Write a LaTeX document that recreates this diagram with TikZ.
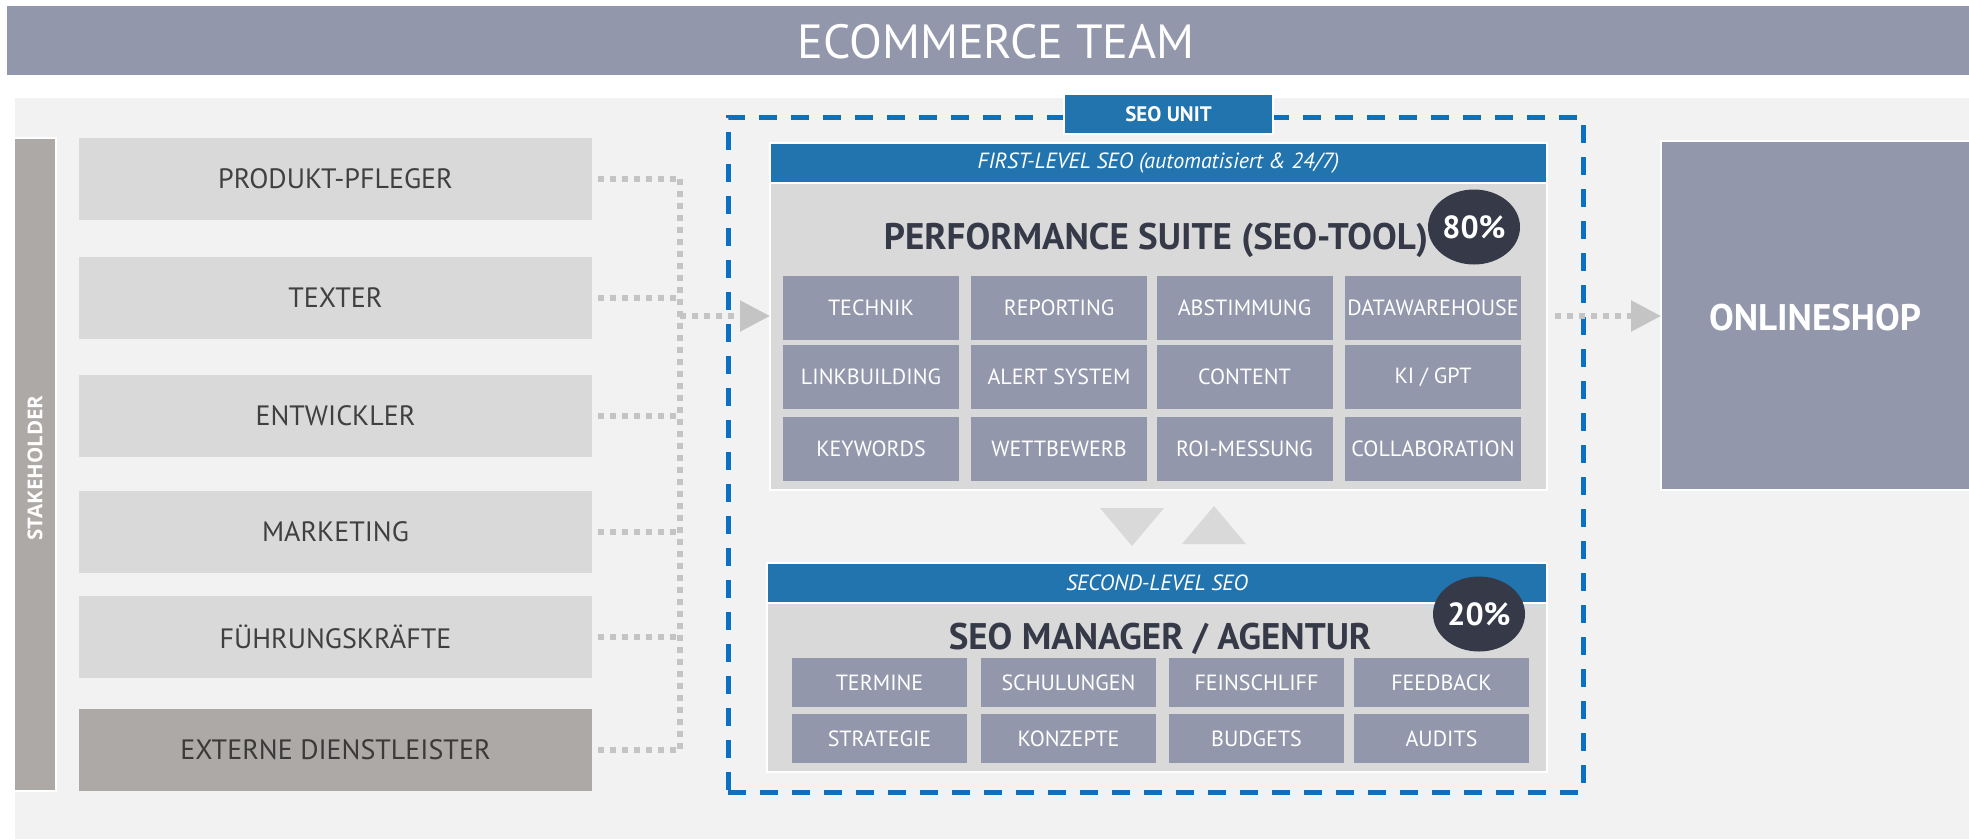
\documentclass[tikz,border=0pt]{standalone}
\usepackage{fontspec}
\setmainfont{PT Sans}
\newfontfamily\osans{Open Sans}
\usetikzlibrary{arrows.meta,shapes.geometric}
\definecolor{bannerc}{RGB}{146,151,171}
\definecolor{bgc}{RGB}{242,242,242}
\definecolor{boxc}{RGB}{217,217,217}
\definecolor{stkc}{RGB}{173,169,167}
\definecolor{txtc}{RGB}{64,64,64}
\definecolor{hdrc}{RGB}{33,116,174}
\definecolor{dashc}{RGB}{10,112,196}
\definecolor{darkc}{RGB}{54,58,72}
\definecolor{dotc}{RGB}{196,196,196}
\begin{document}
\begin{tikzpicture}[x=1pt,y=-1pt,
  every node/.style={inner sep=0pt,outer sep=0pt},
  stk/.style={rectangle, fill=boxc, minimum width=513pt, minimum height=82pt, text=txtc, font=\fontsize{28}{30}\selectfont},
  tile/.style={rectangle, fill=bannerc, text=white, font=\fontsize{22}{24}\selectfont},
  ptile/.style={tile, minimum width=176pt, minimum height=64pt},
  mtile/.style={tile, minimum width=175pt, minimum height=49pt},
  hdr/.style={rectangle, fill=hdrc, draw=white, line width=2pt, minimum height=40pt, text=white, font=\itshape\fontsize{22}{24}\selectfont},
  panel/.style={rectangle, fill=boxc, draw=white, line width=2pt},
  pct/.style={ellipse, fill=darkc, minimum width=92pt, minimum height=75pt, text=white, font=\bfseries\fontsize{32}{34}\selectfont},
  bigtitle/.style={text=darkc, font=\bfseries\fontsize{37}{39}\selectfont},
  dotline/.style={draw=dotc, line width=5.5pt, dash pattern=on 5.5pt off 6.5pt},
  tip/.style={-{Triangle[length=30pt,width=30pt]}},
]
\useasboundingbox (0,0) rectangle (1969,839);
\fill[white] (0,0) rectangle (1969,839);
% banner
\node[fill=bannerc, minimum width=1962pt, minimum height=69pt, anchor=north west] (banner) at (7,6) {};
\node[text=white, font=\fontsize{48}{50}\selectfont] (title) at (996,42) {ECOMMERCE TEAM};
% background
\fill[bgc] (15,98) rectangle (1969,839);
% stakeholder bar
\node[fill=stkc, draw=white, line width=2pt, minimum width=42pt, minimum height=653pt, anchor=north west] (bar) at (14,138) {};
\node[rotate=90, text=white, font=\osans\bfseries\fontsize{20.5}{22}\selectfont] (barlbl) at (35,468) {STAKEHOLDER};
% stakeholder boxes
\node[stk] (pp) at (335.5,179) {PRODUKT-PFLEGER};
\node[stk] (tx) at (335.5,298) {TEXTER};
\node[stk] (en) at (335.5,416) {ENTWICKLER};
\node[stk] (mk) at (335.5,532) {MARKETING};
\node[stk] (fk) at (335.5,637) {FÜHRUNGSKRÄFTE};
\node[stk, fill=stkc, text={rgb,255:red,58;green,58;blue,58}] (ex) at (335.5,750) {EXTERNE DIENSTLEISTER};
% junction
\coordinate (j) at (680,316);
\coordinate (jt) at (680,179);
\coordinate (jb) at (680,750);
% SEO unit dashed frame
\node[draw=dashc, line width=5pt, dash pattern=on 18pt off 14pt, minimum width=855pt, minimum height=675pt, anchor=north west] (unit) at (728,117) {};
\node[fill=hdrc, draw=white, line width=2pt, minimum width=209pt, minimum height=40pt, text=white, font=\bfseries\fontsize{21}{23}\selectfont] (unitlbl) at (1168.5,114) {SEO UNIT};
% first level
\node[hdr, minimum width=777pt] (flh) at (1158.5,163) {FIRST-LEVEL SEO (automatisiert \& 24/7)};
\node[panel, minimum width=777pt, minimum height=307pt] (suite) at (1158.5,336.5) {};
\node[bigtitle] (suitettl) at (1156,240) {PERFORMANCE SUITE (SEO-TOOL)};
\node[pct] (p80) at (1474,227) {80\%};
\node[ptile] (t11) at (871,308) {TECHNIK};
\node[ptile] (t12) at (1059,308) {REPORTING};
\node[ptile] (t13) at (1244.5,308) {ABSTIMMUNG};
\node[ptile] (t14) at (1433,308) {DATAWAREHOUSE};
\node[ptile] (t21) at (871,377) {LINKBUILDING};
\node[ptile] (t22) at (1059,377) {ALERT SYSTEM};
\node[ptile] (t23) at (1244.5,377) {CONTENT};
\node[ptile] (t24) at (1433,377) {KI / GPT};
\node[ptile] (t31) at (871,449) {KEYWORDS};
\node[ptile] (t32) at (1059,449) {WETTBEWERB};
\node[ptile] (t33) at (1244.5,449) {ROI-MESSUNG};
\node[ptile] (t34) at (1433,449) {COLLABORATION};
% exchange triangles
\fill[boxc] (1100,508) -- (1164,508) -- (1132,546) -- cycle;
\fill[boxc] (1182,544) -- (1246,544) -- (1214,506) -- cycle;
% second level
\node[hdr, minimum width=780pt] (slh) at (1157,583) {SECOND-LEVEL SEO};
\node[panel, minimum width=780pt, minimum height=169pt] (mgr) at (1157,687.5) {};
\node[bigtitle] (mgrttl) at (1160,639) {SEO MANAGER / AGENTUR};
\node[pct] (p20) at (1479,614) {20\%};
\node[mtile] (m11) at (879.5,682.5) {TERMINE};
\node[mtile] (m12) at (1068.5,682.5) {SCHULUNGEN};
\node[mtile] (m13) at (1256.5,682.5) {FEINSCHLIFF};
\node[mtile] (m14) at (1441.5,682.5) {FEEDBACK};
\node[mtile] (m21) at (879.5,738.5) {STRATEGIE};
\node[mtile] (m22) at (1068.5,738.5) {KONZEPTE};
\node[mtile] (m23) at (1256.5,738.5) {BUDGETS};
\node[mtile] (m24) at (1441.5,738.5) {AUDITS};
% online shop
\node[fill=bannerc, draw=white, line width=2pt, minimum width=320pt, minimum height=349pt, anchor=north west] (shop) at (1661,141) {};
\node[text=white, font=\bfseries\fontsize{37}{39}\selectfont] (shoplbl) at (1815,318) {ONLINESHOP};
% connectors
\foreach \n in {pp,tx,en,mk,fk,ex}{
  \draw[dotline, shorten <=6pt] (\n.east) -- (\n.east -| j);
}
\draw[dotline] (jt) -- (jb);
\draw[dotline, tip] (j) -- (suite.west |- j);
\draw[dotline, tip, shorten <=8pt] (suite.east |- j) -- (shop.west |- j);
\end{tikzpicture}
\end{document}
